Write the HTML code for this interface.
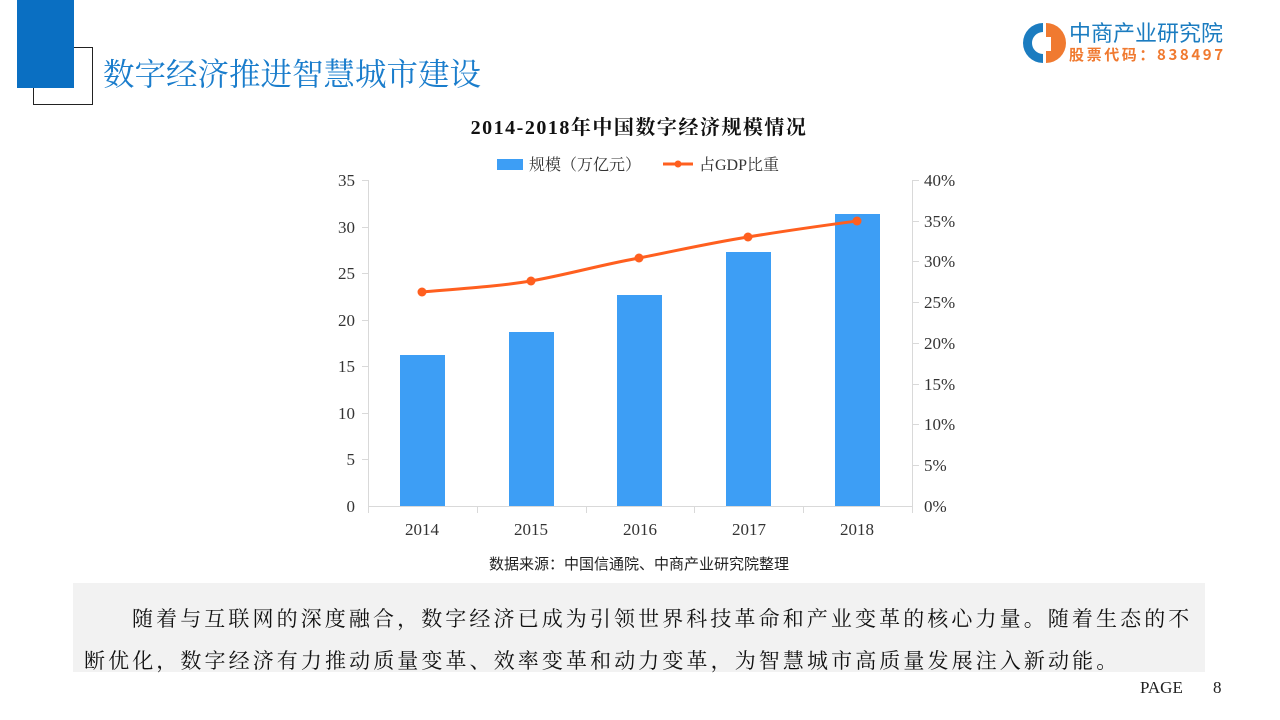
<!DOCTYPE html>
<html><head><meta charset="utf-8"><style>
body{margin:0;width:1280px;height:720px;background:#fff;position:relative;overflow:hidden;font-family:"Liberation Serif","Noto Serif CJK SC",serif}
.abs{position:absolute}
</style></head><body>
<div class="abs" style="left:33px;top:47px;width:60px;height:58px;border:1px solid #222;box-sizing:border-box"></div>
<div class="abs" style="left:17px;top:0;width:57px;height:88px;background:#0a6fc2"></div>
<div class="abs" style="left:103px;top:53px;font-size:31.5px;color:#1a7dcc;font-family:'Noto Serif CJK SC',serif;line-height:40px;white-space:nowrap">数字经济推进智慧城市建设</div>
<svg class="abs" style="left:1020px;top:20px" width="46" height="46" viewBox="0 0 46 46">
<path d="M23 3 A20 20 0 1 0 23 43 L23 34 A11 11 0 1 1 23 12 Z" fill="#1b7cc0"/>
<path d="M26 3 A20 20 0 0 1 26 43 Z" fill="#f07a30"/>
<rect x="26" y="17" width="5" height="14" fill="#fff"/>
</svg>
<div class="abs" style="left:1069px;top:19px;font-size:22px;color:#1b7cc0;font-family:'Noto Sans CJK SC',sans-serif;line-height:27px;white-space:nowrap">中商产业研究院</div>
<div class="abs" style="left:1069px;top:46px;font-size:15px;color:#f07a30;font-family:'Noto Sans CJK SC',sans-serif;line-height:18px;letter-spacing:2.6px;white-space:nowrap;font-weight:bold">股票代码：838497</div>

<svg class="abs" style="left:0;top:0" width="1280" height="580" font-family="Liberation Serif, Noto Serif CJK SC, serif">
<text x="639" y="134" text-anchor="middle" font-size="20" font-weight="bold" letter-spacing="1.5" fill="#111">2014-2018年中国数字经济规模情况</text>
<rect x="497" y="159" width="26" height="11" fill="#3d9ef5"/>
<text x="529" y="170" font-size="16" fill="#333">规模（万亿元）</text>
<line x1="663" y1="164" x2="693" y2="164" stroke="#ff5f1f" stroke-width="3"/>
<circle cx="678" cy="164" r="3.5" fill="#ff5f1f"/>
<text x="699" y="170" font-size="16" fill="#333">占GDP比重</text>
<g stroke="#d9d9d9" stroke-width="1">
<line x1="368.5" y1="180" x2="368.5" y2="513"/>
<line x1="912.5" y1="180" x2="912.5" y2="513"/>
<line x1="368" y1="506.5" x2="913" y2="506.5"/>
<line x1="477.5" y1="506" x2="477.5" y2="513"/>
<line x1="586.5" y1="506" x2="586.5" y2="513"/>
<line x1="694.5" y1="506" x2="694.5" y2="513"/>
<line x1="803.5" y1="506" x2="803.5" y2="513"/>
<line x1="362" y1="180.5" x2="368" y2="180.5"/><line x1="362" y1="227.5" x2="368" y2="227.5"/><line x1="362" y1="273.5" x2="368" y2="273.5"/><line x1="362" y1="320.5" x2="368" y2="320.5"/><line x1="362" y1="366.5" x2="368" y2="366.5"/><line x1="362" y1="413.5" x2="368" y2="413.5"/><line x1="362" y1="459.5" x2="368" y2="459.5"/>
<line x1="913" y1="180.5" x2="919" y2="180.5"/><line x1="913" y1="221.5" x2="919" y2="221.5"/><line x1="913" y1="261.5" x2="919" y2="261.5"/><line x1="913" y1="302.5" x2="919" y2="302.5"/><line x1="913" y1="343.5" x2="919" y2="343.5"/><line x1="913" y1="384.5" x2="919" y2="384.5"/><line x1="913" y1="424.5" x2="919" y2="424.5"/><line x1="913" y1="465.5" x2="919" y2="465.5"/>
</g>
<g font-size="17" fill="#333" text-anchor="end">
<text x="355" y="186">35</text><text x="355" y="233">30</text><text x="355" y="279">25</text><text x="355" y="326">20</text><text x="355" y="372">15</text><text x="355" y="419">10</text><text x="355" y="465">5</text><text x="355" y="512">0</text>
</g>
<g font-size="17" fill="#333">
<text x="924" y="186">40%</text><text x="924" y="227">35%</text><text x="924" y="267">30%</text><text x="924" y="308">25%</text><text x="924" y="349">20%</text><text x="924" y="390">15%</text><text x="924" y="430">10%</text><text x="924" y="471">5%</text><text x="924" y="512">0%</text>
</g>
<g font-size="17" fill="#333" text-anchor="middle">
<text x="422" y="535">2014</text><text x="531" y="535">2015</text><text x="640" y="535">2016</text><text x="749" y="535">2017</text><text x="857" y="535">2018</text>
</g>
<g fill="#3d9ef5">
<rect x="400" y="355" width="45" height="151"/>
<rect x="509" y="332" width="45" height="174"/>
<rect x="617" y="295" width="45" height="211"/>
<rect x="726" y="252" width="45" height="254"/>
<rect x="835" y="214" width="45" height="292"/>
</g>
<path d="M422 292 C470 288 500 286 531 281 C570 274 600 265 639 258 C680 250 710 243 748 237 C790 230 820 226 857 221" fill="none" stroke="#ff5f1f" stroke-width="3"/>
<g fill="#ff5f1f"><circle cx="422" cy="292" r="4.5"/><circle cx="531" cy="281" r="4.5"/><circle cx="639" cy="258" r="4.5"/><circle cx="748" cy="237" r="4.5"/><circle cx="857" cy="221" r="4.5"/></g>
<text x="639" y="569" text-anchor="middle" font-size="15" fill="#222" font-family="Noto Sans CJK SC, sans-serif">数据来源：中国信通院、中商产业研究院整理</text>
</svg>

<div class="abs" style="left:73px;top:583px;width:1132px;height:89px;background:#f2f2f2"></div>
<div class="abs" style="left:84px;top:596px;width:1130px;font-size:21px;line-height:45px;letter-spacing:3.1px;color:#111;font-family:'Noto Serif CJK SC',serif;white-space:nowrap">
<div style="padding-left:48px">随着与互联网的深度融合，数字经济已成为引领世界科技革命和产业变革的核心力量。随着生态的不</div>
<div style="margin-top:-3px">断优化，数字经济有力推动质量变革、效率变革和动力变革，为智慧城市高质量发展注入新动能。</div>
</div>
<div class="abs" style="left:1140px;top:678px;font-size:17px;color:#222">PAGE</div>
<div class="abs" style="left:1213px;top:678px;font-size:17px;color:#222">8</div>
</body></html>
